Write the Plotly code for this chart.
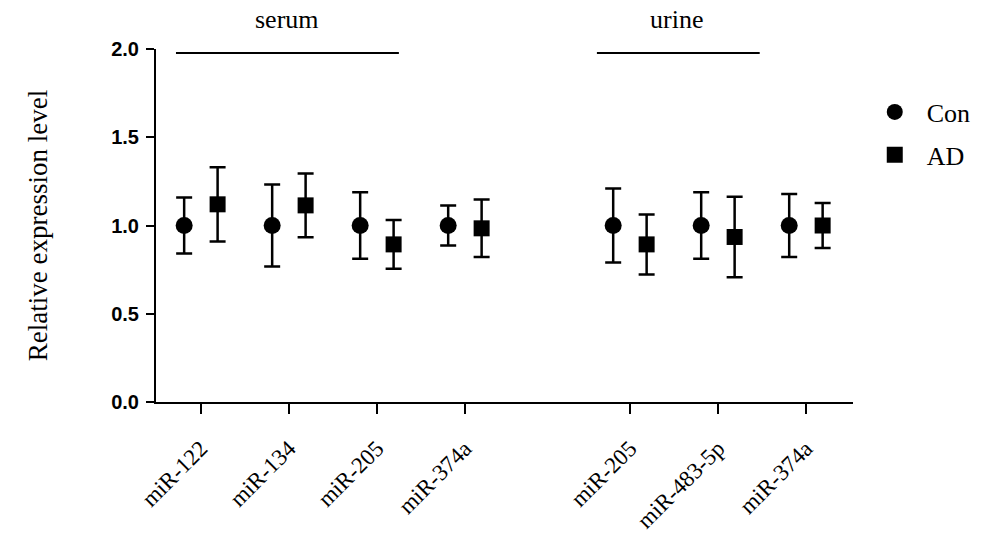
import plotly.graph_objects as go

# ---- data ----
mirnas = ["miR-122", "miR-134", "miR-205", "miR-374a", "miR-205", "miR-483-5p", "miR-374a"]
con_mean = [1.00, 1.00, 1.00, 1.00, 1.00, 1.00, 1.00]
con_sd = [0.158, 0.232, 0.188, 0.114, 0.210, 0.188, 0.179]
ad_mean = [1.120, 1.114, 0.893, 0.984, 0.893, 0.935, 1.000]
ad_sd = [0.210, 0.180, 0.138, 0.163, 0.170, 0.228, 0.128]
groups = ["serum", "urine"]
y_ticks = [0.0, 0.5, 1.0, 1.5, 2.0]

# ---- layout helpers (positions) ----
pos = [1, 2, 3, 4, 5.875, 6.875, 7.875]
off = 0.19
xr = [0.49, 8.41]

serif = "Liberation Serif"

fig = go.Figure()
fig.add_trace(go.Scatter(
    x=[p - off for p in pos], y=con_mean, mode="markers", name="Con",
    legendgroup="con",
    marker=dict(symbol="circle", size=17, color="black"),
    error_y=dict(type="data", array=con_sd, visible=True, color="black",
                 thickness=2.5, width=8),
))
fig.add_trace(go.Scatter(
    x=[p + off for p in pos], y=ad_mean, mode="markers", name="AD",
    legendgroup="ad",
    marker=dict(symbol="square", size=16, color="black"),
    error_y=dict(type="data", array=ad_sd, visible=True, color="black",
                 thickness=2.5, width=8),
))

# group header lines and labels
fig.add_shape(type="line", xref="x", yref="y", x0=0.717, x1=3.25, y0=1.977, y1=1.977,
              line=dict(color="black", width=2))
fig.add_shape(type="line", xref="x", yref="y", x0=5.50, x1=7.35, y0=1.977, y1=1.977,
              line=dict(color="black", width=2))
fig.add_annotation(x=1.98, y=1.083, xref="x", yref="paper", yanchor="middle",
                   text=groups[0], showarrow=False,
                   font=dict(family=serif, size=26, color="black"))
fig.add_annotation(x=6.41, y=1.083, xref="x", yref="paper", yanchor="middle",
                   text=groups[1], showarrow=False,
                   font=dict(family=serif, size=26, color="black"))

fig.update_layout(
    width=985, height=546,
    margin=dict(l=156, r=132, t=49, b=144, autoexpand=False),
    plot_bgcolor="white", paper_bgcolor="white",
    showlegend=True,
    legend=dict(x=1.014, y=0.888, xanchor="left", yanchor="top",
                font=dict(family=serif, size=26, color="black"),
                itemwidth=54,
                tracegroupgap=6, bgcolor="rgba(0,0,0,0)"),
    xaxis=dict(range=xr, tickvals=pos, ticktext=mirnas, tickangle=-45,
               showline=True, linecolor="black", linewidth=2,
               ticks="outside", ticklen=10, tickwidth=2, tickcolor="black",
               ticklabelstandoff=12,
               showgrid=False, zeroline=False,
               tickfont=dict(family=serif, size=23, color="black")),
    yaxis=dict(range=[0, 2], tickvals=y_ticks, tickformat=".1f",
               showline=True, linecolor="black", linewidth=2,
               ticks="outside", ticklen=8, tickwidth=2, tickcolor="black",
               ticklabelstandoff=3,
               showgrid=False, zeroline=False,
               tickfont=dict(family="Liberation Sans", size=20, color="black", weight="bold"),
               title=dict(text="Relative expression level", standoff=56,
                          font=dict(family=serif, size=27, color="black"))),
)

fig.write_html("out.html", config={"displayModeBar": False},
               post_script="document.body.style.margin='0';")
